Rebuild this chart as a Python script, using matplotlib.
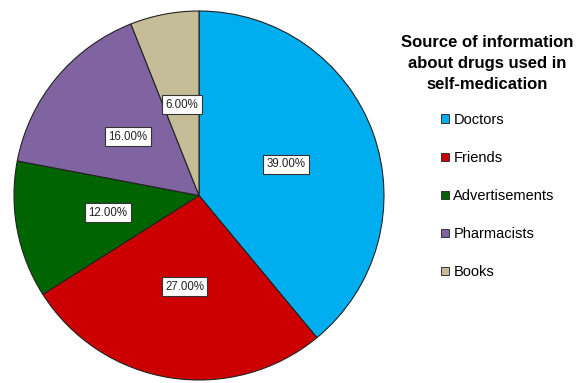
import matplotlib.pyplot as plt
from matplotlib.patches import Patch

# sources of information, clockwise from 12 o'clock
sources = ["Doctors", "Friends", "Advertisements", "Pharmacists", "Books"]
shares = [39.0, 27.0, 12.0, 16.0, 6.0]
colors = ["#00AEEF", "#CC0000", "#006400", "#8064A2", "#C4BD97"]

plt.rcParams['font.family'] = ['Liberation Sans', 'DejaVu Sans']

fig = plt.figure(figsize=(5.81, 3.83), dpi=100)
W, H = 581, 383

# pie occupies a square-ish box on the left
ax = fig.add_axes([14 / W, 3 / H, 370 / W, 369 / H])
wedges, texts, autotexts = ax.pie(
    shares, colors=colors, startangle=90, counterclock=False,
    autopct='%.2f%%', pctdistance=0.5,
    wedgeprops=dict(edgecolor='#222222', linewidth=0.8),
    textprops=dict(fontsize=8.3, color='#222222'))
for t in autotexts:
    t.set_bbox(dict(boxstyle='square,pad=0.3', fc='white', ec='#333333', lw=0.8))
ax.set_xlim(-1.0, 1.0)
ax.set_ylim(-1.0, 1.0)
ax.set_aspect('auto')
ax.axis('off')

fig.text(487 / W, 1 - 35 / H,
         "Source of information\nabout drugs used in\nself-medication",
         ha='center', va='top', fontsize=12, fontweight='bold',
         linespacing=1.5)

handles = [Patch(facecolor=c, edgecolor='#333333', linewidth=0.7) for c in colors]
fig.legend(handles, sources, loc='upper left',
           bbox_to_anchor=(441 / W, 1 - 113 / H), frameon=False,
           fontsize=10.5, labelspacing=1.65, handlelength=0.55,
           handleheight=0.55, handletextpad=0.3, borderpad=0,
           borderaxespad=0)

fig.savefig('out.png', dpi=100)
